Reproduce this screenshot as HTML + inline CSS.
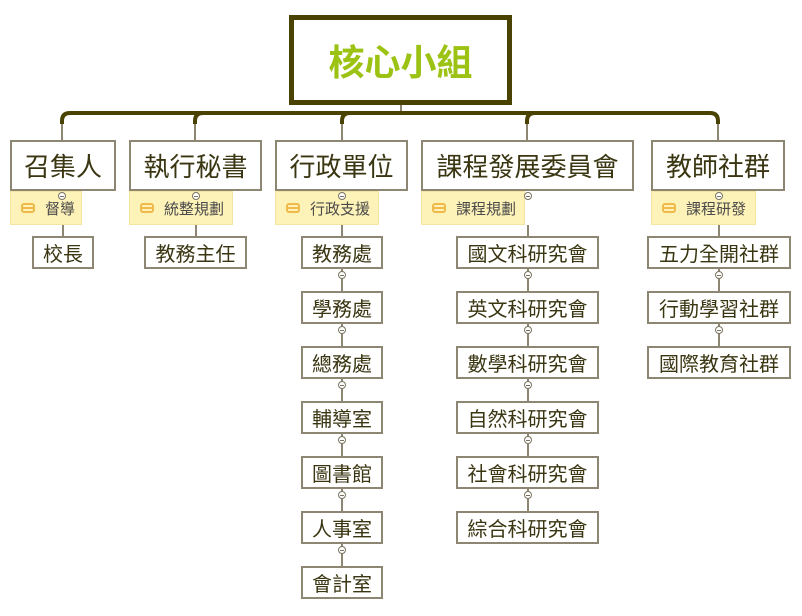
<!DOCTYPE html>
<html><head><meta charset="utf-8"><style>
body{margin:0;width:802px;height:616px;background:#fff;position:relative;overflow:hidden;font-family:"Liberation Sans","Noto Sans CJK TC",sans-serif;}
.b{position:absolute;box-sizing:border-box;border:2px solid #8c8672;background:#fff;display:flex;align-items:center;justify-content:center;color:#3a3612;}
.l1{font-size:26px;}
.c{font-size:20px;height:33px;}
.n{position:absolute;box-sizing:border-box;height:34px;background:#fdf2b8;border:1px solid #f4e6a0;font-size:15px;color:#4a4a4a;display:flex;align-items:center;}
.n i{display:inline-block;width:14px;height:10px;border:2px solid #f0b94a;border-radius:3px;margin:0 10px 0 10px;position:relative;box-sizing:border-box;}
.n i:after{content:"";position:absolute;left:0;right:0;top:2px;border-top:2px solid #f0b94a;}
.v{position:absolute;width:2px;background:#8c8672;}
.o{position:absolute;width:8px;height:8px;border:1px solid #7a7560;border-radius:50%;background:#fff;box-sizing:border-box;}
.o:after{content:"";position:absolute;left:1px;right:1px;top:3px;border-top:1px solid #7a7560;}
</style></head><body>
<svg width="802" height="616" style="position:absolute;left:0;top:0">
<line x1="401" y1="105" x2="401" y2="113" stroke="#8c8672" stroke-width="2"/>
<g stroke="#8c8672" stroke-width="2">
<line x1="62" y1="120" x2="62" y2="140"/><line x1="195" y1="120" x2="195" y2="140"/><line x1="342" y1="120" x2="342" y2="140"/><line x1="527" y1="120" x2="527" y2="140"/><line x1="718" y1="120" x2="718" y2="140"/>
</g>
<g fill="none" stroke="#4a4200" stroke-width="4">
<path d="M62 124 V121 Q62 113 70 113 H710 Q718 113 718 121 V124"/>
<path d="M195 124 V121 Q195 113 203 113"/>
<path d="M342 124 V121 Q342 113 350 113"/>
<path d="M527 124 V121 Q527 113 535 113"/>
</g>
</svg>
<div style="position:absolute;left:289px;top:15px;width:223px;height:90px;box-sizing:border-box;border:5px solid #4a4200;background:#fff;display:flex;align-items:center;justify-content:center;color:#9cc213;font-size:36px;font-weight:bold;">核心小組</div>

<div class="b l1" style="left:10px;top:140px;width:106px;height:51px">召集人</div>
<div class="b l1" style="left:129px;top:140px;width:133px;height:51px">執行秘書</div>
<div class="b l1" style="left:275px;top:140px;width:133px;height:51px">行政單位</div>
<div class="b l1" style="left:421px;top:140px;width:213px;height:51px">課程發展委員會</div>
<div class="b l1" style="left:651px;top:140px;width:134px;height:51px">教師社群</div>

<div class="n" style="left:10px;top:191px;width:72px"><i></i>督導</div>
<div class="n" style="left:129px;top:191px;width:104px"><i></i>統整規劃</div>
<div class="n" style="left:275px;top:191px;width:104px"><i></i>行政支援</div>
<div class="n" style="left:421px;top:191px;width:104px"><i></i>課程規劃</div>
<div class="n" style="left:651px;top:191px;width:105px"><i></i>課程研發</div>

<div class="v" style="left:62px;top:225px;height:11px"></div>
<div class="v" style="left:195px;top:225px;height:11px"></div>
<div class="v" style="left:341px;top:225px;height:346px"></div>
<div class="v" style="left:527px;top:225px;height:291px"></div>
<div class="v" style="left:718px;top:225px;height:126px"></div>

<div class="o" style="left:58px;top:192px"></div>
<div class="o" style="left:192px;top:192px"></div>
<div class="o" style="left:338px;top:192px"></div>
<div class="o" style="left:524px;top:192px"></div>
<div class="o" style="left:715px;top:192px"></div>

<div class="b c" style="left:32px;top:236px;width:62px">校長</div>
<div class="b c" style="left:144px;top:236px;width:103px">教務主任</div>

<div class="b c" style="left:301px;top:236px;width:82px">教務處</div>
<div class="b c" style="left:301px;top:291px;width:82px">學務處</div>
<div class="b c" style="left:301px;top:346px;width:82px">總務處</div>
<div class="b c" style="left:301px;top:401px;width:82px">輔導室</div>
<div class="b c" style="left:301px;top:456px;width:82px">圖書館</div>
<div class="b c" style="left:301px;top:511px;width:82px">人事室</div>
<div class="b c" style="left:301px;top:566px;width:82px">會計室</div>

<div class="b c" style="left:456px;top:236px;width:143px">國文科研究會</div>
<div class="b c" style="left:456px;top:291px;width:143px">英文科研究會</div>
<div class="b c" style="left:456px;top:346px;width:143px">數學科研究會</div>
<div class="b c" style="left:456px;top:401px;width:143px">自然科研究會</div>
<div class="b c" style="left:456px;top:456px;width:143px">社會科研究會</div>
<div class="b c" style="left:456px;top:511px;width:143px">綜合科研究會</div>

<div class="b c" style="left:647px;top:236px;width:144px">五力全開社群</div>
<div class="b c" style="left:647px;top:291px;width:144px">行動學習社群</div>
<div class="b c" style="left:647px;top:346px;width:144px">國際教育社群</div>

<div class="o" style="left:338px;top:271px"></div><div class="o" style="left:338px;top:326px"></div><div class="o" style="left:338px;top:381px"></div><div class="o" style="left:338px;top:436px"></div><div class="o" style="left:338px;top:491px"></div><div class="o" style="left:338px;top:546px"></div>
<div class="o" style="left:524px;top:271px"></div><div class="o" style="left:524px;top:326px"></div><div class="o" style="left:524px;top:381px"></div><div class="o" style="left:524px;top:436px"></div><div class="o" style="left:524px;top:491px"></div>
<div class="o" style="left:715px;top:271px"></div><div class="o" style="left:715px;top:326px"></div>
</body></html>
